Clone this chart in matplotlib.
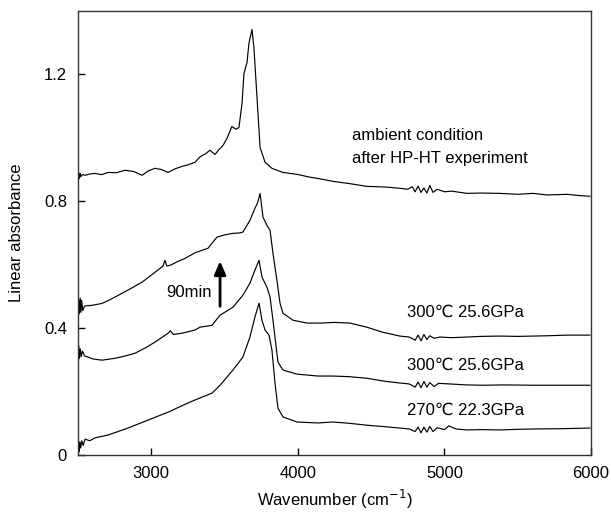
import matplotlib
matplotlib.use("Agg")
import matplotlib.pyplot as plt

plt.rcParams['font.family'] = ['Liberation Sans', 'DejaVu Sans']

# ambient condition, after HP-HT experiment
wn_amb = [2500, 2505, 2510, 2515, 2520, 2530, 2548, 2580, 2616, 2660,
          2705, 2760, 2821, 2880, 2937, 2980, 3025, 3070, 3114, 3160,
          3209, 3250, 3298, 3332, 3370, 3400, 3435, 3460, 3489, 3516,
          3550, 3578, 3598, 3619, 3632, 3653, 3666, 3687, 3700, 3721,
          3742, 3776, 3823, 3898, 3994, 4083, 4137, 4239, 4350, 4471,
          4600, 4696, 4750, 4780, 4800, 4820, 4840, 4860, 4880, 4900,
          4922, 4950, 5000, 5050, 5153, 5250, 5379, 5500, 5604, 5700,
          5836, 5920, 5992]
ab_amb = [0.870, 0.890, 0.872, 0.888, 0.878, 0.884, 0.882, 0.886, 0.888, 0.884,
          0.891, 0.890, 0.898, 0.894, 0.882, 0.896, 0.904, 0.900, 0.891, 0.902,
          0.910, 0.915, 0.923, 0.940, 0.950, 0.961, 0.948, 0.962, 0.976, 0.998,
          1.036, 1.027, 1.033, 1.109, 1.203, 1.238, 1.298, 1.342, 1.285, 1.128,
          0.970, 0.923, 0.904, 0.891, 0.885, 0.876, 0.872, 0.863, 0.856, 0.847,
          0.845, 0.841, 0.838, 0.846, 0.830, 0.848, 0.828, 0.842, 0.826, 0.850,
          0.828, 0.838, 0.830, 0.832, 0.825, 0.826, 0.825, 0.822, 0.825, 0.820,
          0.822, 0.818, 0.816]

# 300C 25.6GPa, after 90 min
wn_90 = [2500, 2505, 2510, 2515, 2520, 2525, 2532, 2545, 2596, 2664,
         2710, 2752, 2841, 2937, 3025, 3080, 3093, 3105, 3128, 3180,
         3230, 3300, 3387, 3448, 3500, 3557, 3600, 3625, 3673, 3707,
         3725, 3742, 3762, 3789, 3810, 3830, 3857, 3878, 3898, 3967,
         4062, 4151, 4250, 4355, 4471, 4580, 4696, 4760, 4800, 4820,
         4840, 4860, 4880, 4900, 4930, 4969, 5050, 5153, 5250, 5379,
         5500, 5604, 5700, 5836, 5992]
ab_90 = [0.450, 0.490, 0.445, 0.495, 0.450, 0.488, 0.455, 0.470, 0.472, 0.478,
         0.488, 0.498, 0.520, 0.545, 0.576, 0.596, 0.614, 0.596, 0.598, 0.610,
         0.620, 0.638, 0.652, 0.687, 0.694, 0.699, 0.700, 0.703, 0.740, 0.778,
         0.795, 0.825, 0.750, 0.724, 0.709, 0.636, 0.551, 0.479, 0.447, 0.425,
         0.416, 0.416, 0.418, 0.416, 0.403, 0.387, 0.375, 0.372, 0.362, 0.378,
         0.360, 0.380, 0.364, 0.376, 0.368, 0.372, 0.370, 0.372, 0.374, 0.375,
         0.374, 0.375, 0.376, 0.378, 0.378]

# 300C 25.6GPa, start
wn_300 = [2500, 2505, 2510, 2515, 2522, 2530, 2545, 2568, 2600, 2664,
          2752, 2820, 2889, 2960, 3025, 3070, 3114, 3130, 3150, 3209,
          3298, 3332, 3414, 3469, 3557, 3625, 3673, 3707, 3735, 3755,
          3789, 3810, 3830, 3864, 3898, 3994, 4137, 4239, 4350, 4471,
          4600, 4696, 4760, 4800, 4820, 4840, 4860, 4880, 4900, 4930,
          4960, 5037, 5150, 5263, 5400, 5604, 5800, 5992]
ab_300 = [0.320, 0.345, 0.305, 0.335, 0.310, 0.328, 0.312, 0.309, 0.303, 0.299,
          0.305, 0.312, 0.321, 0.338, 0.356, 0.370, 0.384, 0.392, 0.380, 0.384,
          0.394, 0.403, 0.409, 0.441, 0.466, 0.504, 0.542, 0.583, 0.614, 0.561,
          0.529, 0.498, 0.425, 0.293, 0.268, 0.255, 0.249, 0.249, 0.247, 0.242,
          0.232, 0.227, 0.224, 0.214, 0.230, 0.212, 0.232, 0.214, 0.228, 0.216,
          0.226, 0.224, 0.221, 0.220, 0.221, 0.220, 0.220, 0.220]

# 270C 22.3GPa
wn_270 = [2500, 2504, 2508, 2512, 2518, 2525, 2535, 2548, 2580, 2616,
          2705, 2841, 2977, 3114, 3250, 3332, 3414, 3469, 3557, 3625,
          3673, 3707, 3735, 3755, 3776, 3803, 3823, 3844, 3864, 3898,
          3994, 4137, 4239, 4350, 4471, 4600, 4696, 4760, 4800, 4820,
          4840, 4860, 4880, 4900, 4922, 4950, 5000, 5030, 5080, 5153,
          5250, 5379, 5500, 5604, 5800, 5992]
ab_270 = [0.000, 0.035, 0.010, 0.042, 0.022, 0.045, 0.030, 0.050, 0.045, 0.054,
          0.063, 0.085, 0.110, 0.135, 0.164, 0.180, 0.195, 0.220, 0.268, 0.309,
          0.372, 0.435, 0.479, 0.425, 0.394, 0.378, 0.331, 0.227, 0.148, 0.120,
          0.104, 0.101, 0.104, 0.100, 0.094, 0.089, 0.085, 0.082, 0.074, 0.088,
          0.070, 0.088, 0.072, 0.090, 0.074, 0.086, 0.080, 0.092, 0.082, 0.079,
          0.080, 0.079, 0.081, 0.082, 0.083, 0.085]

xticks = [3000, 4000, 5000, 6000]
yticks = [0, 0.4, 0.8, 1.2]
ytick_labels = ['0', '0.4', '0.8', '1.2']

fig = plt.figure(figsize=(6.11, 5.15), dpi=100)
ax = fig.add_axes([0.1277, 0.1165, 0.8396, 0.8621])

for wn, ab in [(wn_amb, ab_amb), (wn_90, ab_90), (wn_300, ab_300), (wn_270, ab_270)]:
    ax.plot(wn, ab, color='black', lw=0.85)

ax.set_xlim(2500, 6000)
ax.set_ylim(0, 1.4)
ax.set_xticks(xticks)
ax.set_yticks(yticks)
ax.set_yticklabels(ytick_labels)
ax.tick_params(direction='in', length=5, width=1, labelsize=12, pad=8)
for sp in ax.spines.values():
    sp.set_linewidth(1.0)
    sp.set_color('#333333')

ax.set_xlabel('Wavenumber (cm$^{-1}$)', fontsize=12, labelpad=5)
ax.set_ylabel('Linear absorbance', fontsize=12, labelpad=14)

ax.text(4370, 1.008, 'ambient condition', fontsize=12, va='center')
ax.text(4370, 0.935, 'after HP-HT experiment', fontsize=12, va='center')
ax.text(4745, 0.450, '300\u2103 25.6GPa', fontsize=12, va='center')
ax.text(4745, 0.283, '300\u2103 25.6GPa', fontsize=12, va='center')
ax.text(4745, 0.142, '270\u2103 22.3GPa', fontsize=12, va='center')
ax.text(3414, 0.513, '90min', fontsize=12, va='center', ha='right')
ax.annotate('', xy=(3469, 0.62), xytext=(3469, 0.46),
            arrowprops=dict(arrowstyle='-|>,head_width=0.35,head_length=0.8',
                            color='black', lw=2))

fig.savefig('out.png', dpi=100)
